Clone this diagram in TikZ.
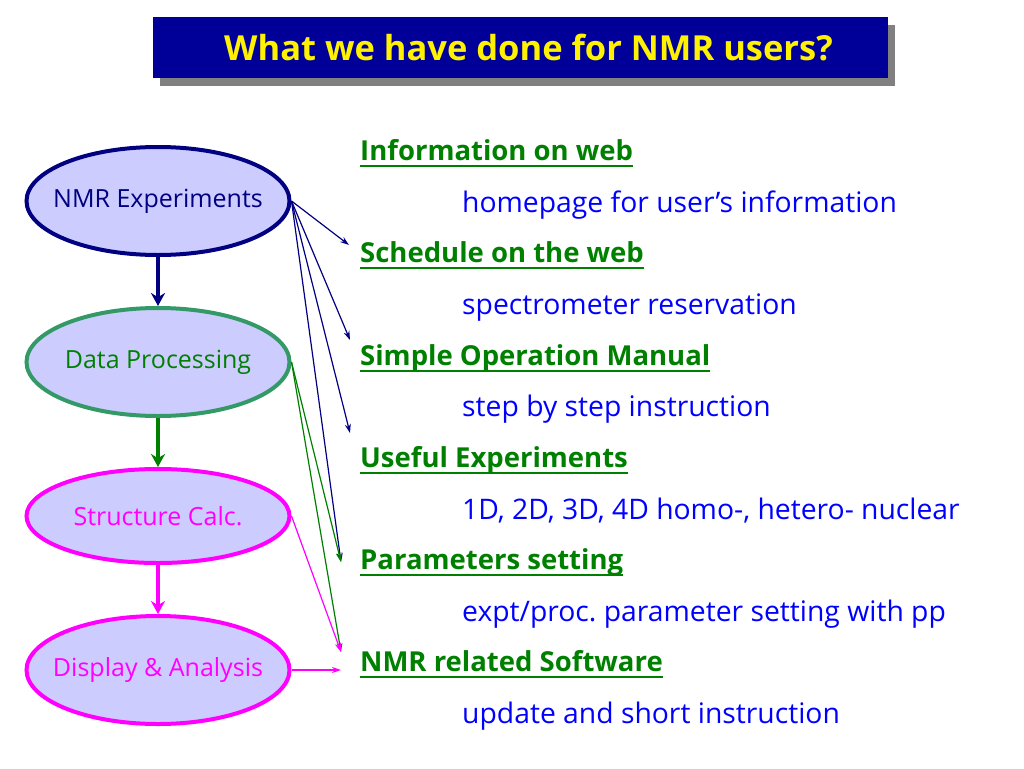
\documentclass[tikz,border=0pt]{standalone}
\usepackage{fontspec}
\setmainfont{Open Sans}
\frenchspacing
\definecolor{NMRnavy}{HTML}{000080}
\definecolor{NMRtitle}{HTML}{000099}
\definecolor{NMRgreen}{HTML}{008000}
\definecolor{NMRteal}{HTML}{339966}
\definecolor{NMRpink}{HTML}{FF00FF}
\definecolor{NMRblue}{HTML}{0000FF}
\definecolor{NMRfill}{HTML}{CCCCFF}
\usetikzlibrary{shapes.geometric, arrows, shadows}
\usetikzlibrary{arrows.meta}
\tikzstyle{title} = [
    rectangle,
    minimum width=735pt,
    minimum height=61pt,
    fill=NMRtitle,
    text=yellow,
    font=\fontsize{34.5}{38}\selectfont\bfseries,
    drop shadow={shadow xshift=7pt, shadow yshift=-8pt, fill=black!50, opacity=1}
]
\tikzstyle{stage} = [
    ellipse,
    minimum width=263pt,
    minimum height=108pt,
    line width=4pt,
    fill=NMRfill
]
\tikzstyle{stagetext} = [
    font=\fontsize{25}{28}\selectfont
]
\tikzstyle{head} = [
    anchor=base west,
    inner sep=0pt,
    text height=20pt,
    text depth=6pt,
    text=NMRgreen,
    font=\fontsize{27.5}{30}\selectfont\bfseries
]
\tikzstyle{item} = [
    anchor=base west,
    inner sep=0pt,
    text=NMRblue,
    font=\fontsize{28.3}{32}\selectfont
]
\tikzstyle{thin} = [
    line width=1.2pt,
    ->,
    >={Stealth[length=9pt, width=6pt]}
]
\tikzstyle{fat} = [
    line width=4pt,
    ->,
    >={Stealth[length=13pt, width=14pt]}
]

\begin{document}
\begin{tikzpicture}[x=1pt, y=-1pt]

		\useasboundingbox (0,0) rectangle (1024,768);

		\node (title)    [title] at (520.5,47.5)                                     {\hspace*{16pt}What we have done for NMR users?};

		% flow of stages
		\node (nmr)      [stage, draw=NMRnavy, label={[stagetext, text=NMRnavy]center:NMR Experiments}] at (158,201) {};
		\node (proc)     [stage, draw=NMRteal, label={[stagetext, text=NMRgreen]center:Data Processing}, node distance=161pt, below of=nmr] {};
		\node (calc)     [stage, draw=NMRpink, label={[stagetext, text=NMRpink]center:Structure Calc.}, minimum height=94pt, node distance=154pt, below of=proc] {};
		\node (disp)     [stage, draw=NMRpink, label={[stagetext, text=NMRpink]center:Display \& Analysis}, node distance=154pt, below of=calc] {};

		\draw [fat, NMRnavy]  (nmr)  -- (proc);
		\draw [fat, NMRgreen] (proc) -- (calc);
		\draw [fat, NMRpink]  (calc) -- (disp);

		% what was done
		\node (web)      [head] at (360,160)   {Information on web};
		\node (webtxt)   [item] at (462,212)   {homepage for user’s information};
		\node (sched)    [head] at (360,262)   {Schedule on the web};
		\node (schedtxt) [item] at (462,314)   {spectrometer reservation};
		\node (manual)   [head] at (360,365)   {Simple Operation Manual};
		\node (mantxt)   [item] at (462,416)   {step by step instruction};
		\node (useful)   [head] at (360,467)   {Useful Experiments};
		\node (usetxt)   [item] at (462,519)   {1D, 2D, 3D, 4D homo-, hetero- nuclear};
		\node (param)    [head] at (360,569)   {Parameters setting};
		\node (partxt)   [item] at (462,621)   {expt/proc. parameter setting with pp};
		\node (soft)     [head] at (360,671)   {NMR related Software};
		\node (softtxt)  [item] at (462,723)   {update and short instruction};

		\foreach \h in {web, sched, manual, useful, param, soft}
			\draw [NMRgreen, line width=1.5pt] (\h.south west) -- (\h.south east);

		% arrow ends
		\coordinate (toSched)  at (349,245);
		\coordinate (toManual) at (350,340);
		\coordinate (toUseful) at (350,433);
		\coordinate (toParam)  at (341,562);
		\coordinate (toSoft)   at (341,652);
		\coordinate (toSoftB)  at (341,670);

		\draw [thin, NMRnavy]  (nmr.east)  -- (toSched);
		\draw [thin, NMRnavy]  (nmr.east)  -- (toManual);
		\draw [thin, NMRnavy]  (nmr.east)  -- (toUseful);
		\draw [thin, NMRnavy]  (nmr.east)  -- (toParam);
		\draw [thin, NMRgreen] (proc.east) -- (toParam);
		\draw [thin, NMRgreen] (proc.east) -- (toSoft);
		\draw [thin, NMRpink]  (calc.east) -- (toSoft);
		\draw [thin, NMRpink]  (disp.east) -- (toSoftB);

\end{tikzpicture}
\end{document}
